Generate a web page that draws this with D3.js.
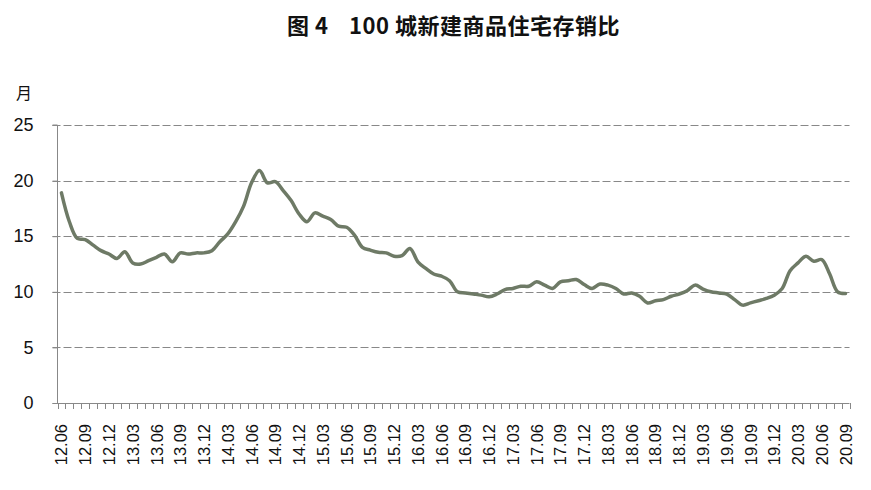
<!DOCTYPE html>
<html>
<head>
<meta charset="utf-8">
<script src="https://cdn.jsdelivr.net/npm/d3@7"></script>
<style>
  html, body { margin: 0; padding: 0; background: #fff; }
  svg { display: block; }
</style>
</head>
<body>
<svg id="chart" width="871" height="490"></svg>
<script>
const titleParts = ["图 4", "100 城新建商品住宅存销比"];
const unitLabel = "月";
const months = [
  "12.06","12.07","12.08","12.09","12.10","12.11","12.12",
  "13.01","13.02","13.03","13.04","13.05","13.06","13.07","13.08","13.09","13.10","13.11","13.12",
  "14.01","14.02","14.03","14.04","14.05","14.06","14.07","14.08","14.09","14.10","14.11","14.12",
  "15.01","15.02","15.03","15.04","15.05","15.06","15.07","15.08","15.09","15.10","15.11","15.12",
  "16.01","16.02","16.03","16.04","16.05","16.06","16.07","16.08","16.09","16.10","16.11","16.12",
  "17.01","17.02","17.03","17.04","17.05","17.06","17.07","17.08","17.09","17.10","17.11","17.12",
  "18.01","18.02","18.03","18.04","18.05","18.06","18.07","18.08","18.09","18.10","18.11","18.12",
  "19.01","19.02","19.03","19.04","19.05","19.06","19.07","19.08","19.09","19.10","19.11","19.12",
  "20.01","20.02","20.03","20.04","20.05","20.06","20.07","20.08","20.09"
];
const ratio = [
  18.9, 16.3, 14.8, 14.7, 14.2, 13.7, 13.4,
  13.0, 13.6, 12.6, 12.5, 12.8, 13.1, 13.4, 12.7, 13.5, 13.4, 13.5, 13.5,
  13.7, 14.5, 15.2, 16.3, 17.7, 19.8, 20.9, 19.8, 19.9, 19.1, 18.2, 17.0,
  16.3, 17.1, 16.8, 16.5, 15.9, 15.8, 15.1, 14.0, 13.75, 13.55, 13.5, 13.2,
  13.25, 13.9, 12.7, 12.1, 11.6, 11.4, 11.0, 10.0, 9.9, 9.8, 9.7, 9.55,
  9.8, 10.2, 10.3, 10.5, 10.5, 10.9, 10.6, 10.3, 10.9, 11.0, 11.1, 10.65,
  10.3, 10.7, 10.6, 10.3, 9.8, 9.9, 9.6, 9.0, 9.2, 9.3, 9.6, 9.8,
  10.1, 10.6, 10.25, 10.0, 9.9, 9.8, 9.3, 8.8, 9.0, 9.2, 9.4, 9.7,
  10.3, 11.9, 12.6, 13.2, 12.75, 12.9, 11.6, 10.0, 9.85
];
const xTickLabels = ["12.06","12.09","12.12","13.03","13.06","13.09","13.12","14.03","14.06","14.09","14.12",
  "15.03","15.06","15.09","15.12","16.03","16.06","16.09","16.12","17.03","17.06","17.09","17.12",
  "18.03","18.06","18.09","18.12","19.03","19.06","19.09","19.12","20.03","20.06","20.09"];
const yTicks = [0, 5, 10, 15, 20, 25];

const svg = d3.select("#chart");
const pLeft = 57.5, pRight = 849.5, pTop = 125, pBottom = 403;

const x = d3.scaleBand().domain(months).range([pLeft, pRight]).padding(0);
const y = d3.scaleLinear().domain([0, 25]).range([pBottom, pTop]);

// Title
const title = svg.append("text")
  .attr("y", 34)
  .attr("font-family", "'Noto Sans CJK SC', sans-serif")
  .attr("font-size", 22)
  .attr("font-weight", 700)
  .attr("letter-spacing", 0.5)
  .attr("fill", "#111");
title.append("tspan").attr("x", 287).text(titleParts[0]);
title.append("tspan").attr("x", 349).text(titleParts[1]);

// Unit
svg.append("text")
  .attr("x", 24).attr("y", 99)
  .attr("text-anchor", "middle")
  .attr("font-family", "'Noto Sans CJK SC', sans-serif")
  .attr("font-size", 16)
  .attr("fill", "#111")
  .text(unitLabel);

// Gridlines
svg.append("g")
  .selectAll("line")
  .data(yTicks.filter(d => d > 0))
  .join("line")
  .attr("x1", pLeft - 5).attr("x2", pRight)
  .attr("y1", d => Math.round(y(d)) + 0.5).attr("y2", d => Math.round(y(d)) + 0.5)
  .attr("stroke", "#888")
  .attr("stroke-width", 1)
  .attr("stroke-dasharray", "8,3");

// Y axis
const yAxis = d3.axisLeft(y).tickValues(yTicks).tickSize(5).tickPadding(19).tickFormat(d3.format("d"));
const gy = svg.append("g").attr("transform", `translate(${pLeft},0)`).call(yAxis);
gy.select(".domain").attr("stroke", "#888").attr("d", `M-5,${pTop}H0V${pBottom}`);
gy.selectAll(".tick line").attr("stroke", "#888");
gy.selectAll(".tick text")
  .attr("font-family", "'Liberation Sans', Arial, sans-serif")
  .attr("font-size", 18)
  .attr("fill", "#111");

// X axis: tick marks at category boundaries
const boundaries = months.map(m => x(m)).concat([pRight]);
const gx = svg.append("g");
gx.append("line")
  .attr("x1", pLeft - 5).attr("x2", pRight)
  .attr("y1", pBottom + 0.5).attr("y2", pBottom + 0.5)
  .attr("stroke", "#888");
gx.selectAll("line.tk")
  .data(boundaries)
  .join("line")
  .attr("class", "tk")
  .attr("x1", d => Math.round(d) + 0.5).attr("x2", d => Math.round(d) + 0.5)
  .attr("y1", pBottom).attr("y2", pBottom + 6)
  .attr("stroke", "#888");

gx.selectAll("text")
  .data(xTickLabels)
  .join("text")
  .attr("transform", d => `translate(${x(d) + x.bandwidth() / 2 + 6},${pBottom + 21}) rotate(-90)`)
  .attr("text-anchor", "end")
  .attr("font-family", "'Liberation Sans', Arial, sans-serif")
  .attr("font-size", 16.5)
  .attr("fill", "#111")
  .text(d => d);

// Line
const line = d3.line()
  .x((d, i) => x(months[i]) + x.bandwidth() / 2)
  .y(d => y(d))
  .curve(d3.curveCatmullRom.alpha(0.5));

svg.append("path")
  .datum(ratio)
  .attr("d", line)
  .attr("fill", "none")
  .attr("stroke", "#6e7a66")
  .attr("stroke-width", 3.5)
  .attr("stroke-linejoin", "round")
  .attr("stroke-linecap", "round");
</script>
</body>
</html>
